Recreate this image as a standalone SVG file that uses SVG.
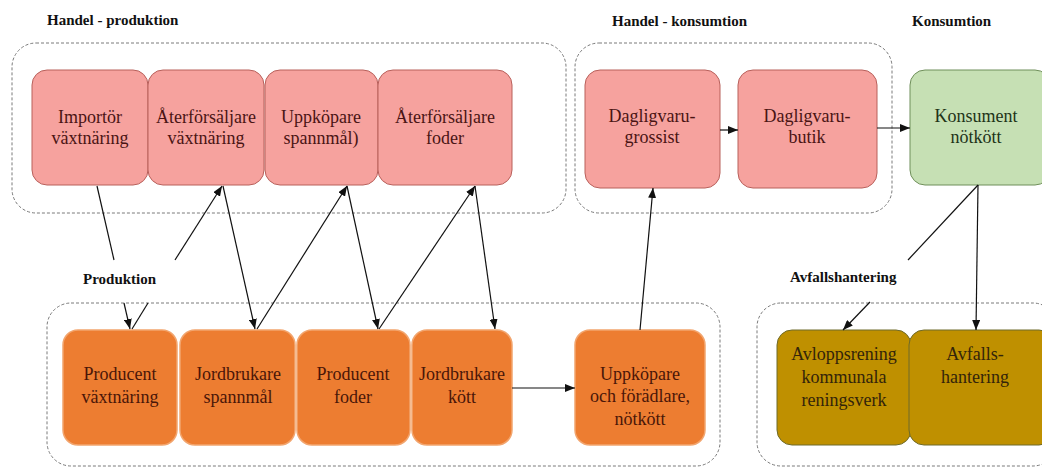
<svg xmlns="http://www.w3.org/2000/svg" width="1042" height="468" viewBox="0 0 1042 468">
  <style>
    .grp { fill: none; stroke: #7a7a7a; stroke-width: 1; stroke-dasharray: 3 2; }
    .pink { fill: #F6A29E; stroke: #B8605B; stroke-width: 1; }
    .orange { fill: #ED7D31; stroke: #F2A56E; stroke-width: 1.5; }
    .olive { fill: #BF9000; stroke: #6E6A2A; stroke-width: 1; }
    .green { fill: #C6E0B4; stroke: #6F8F5A; stroke-width: 1; }
    .t { font-family: "Liberation Serif", serif; font-size: 18px; text-anchor: middle; }
    .tp { fill: #4A1414; }
    .to { fill: #4A1608; }
    .tv { fill: #33240A; }
    .tg { fill: #1E3318; }
    .h { font-family: "Liberation Serif", serif; font-size: 15px; font-weight: bold; fill: #111; }
    .c { stroke: #111; stroke-width: 1.2; fill: none; }
  </style>
  <defs>
    <marker id="arr" viewBox="0 0 10 8" refX="10" refY="4" markerWidth="10" markerHeight="8" markerUnits="userSpaceOnUse" orient="auto">
      <path d="M0,0 L10,4 L0,8 z" fill="#111"/>
    </marker>
  </defs>

  <rect width="1042" height="468" fill="#ffffff"/>

  <!-- section headings -->
  <g id="headings">
    <text class="h" x="47" y="25">Handel - produktion</text>
    <text class="h" x="612" y="26">Handel - konsumtion</text>
    <text class="h" x="912" y="26">Konsumtion</text>
    <text class="h" x="83" y="284">Produktion</text>
    <text class="h" x="790" y="282">Avfallshantering</text>
  </g>

  <!-- dashed groupings -->
  <g id="groups">
    <rect class="grp" x="12" y="43" width="554" height="170" rx="24"/>
    <rect class="grp" x="575" y="43" width="317" height="170" rx="24"/>
    <rect class="grp" x="47" y="303" width="673" height="163" rx="24"/>
    <rect class="grp" x="757" y="303" width="300" height="163" rx="24"/>
  </g>

  <!-- trade / production tier -->
  <g id="importor-vaxtnaring">
    <rect class="pink" x="32" y="70" width="116" height="115" rx="15"/>
    <text class="t tp" x="90" y="123">Importör</text>
    <text class="t tp" x="90" y="144">växtnäring</text>
  </g>
  <g id="aterforsaljare-vaxtnaring">
    <rect class="pink" x="148" y="70" width="116" height="115" rx="15"/>
    <text class="t tp" x="206" y="123">Återförsäljare</text>
    <text class="t tp" x="206" y="144">växtnäring</text>
  </g>
  <g id="uppkopare-spannmal">
    <rect class="pink" x="265" y="70" width="113" height="115" rx="15"/>
    <text class="t tp" x="321" y="123">Uppköpare</text>
    <text class="t tp" x="321" y="144">spannmål)</text>
  </g>
  <g id="aterforsaljare-foder">
    <rect class="pink" x="378" y="70" width="134" height="115" rx="15"/>
    <text class="t tp" x="445" y="123">Återförsäljare</text>
    <text class="t tp" x="445" y="144">foder</text>
  </g>

  <!-- trade / consumption tier -->
  <g id="dagligvaru-grossist">
    <rect class="pink" x="585" y="70" width="135" height="118" rx="15"/>
    <text class="t tp" x="652" y="122">Dagligvaru-</text>
    <text class="t tp" x="652" y="143">grossist</text>
  </g>
  <g id="dagligvaru-butik">
    <rect class="pink" x="738" y="70" width="139" height="118" rx="15"/>
    <text class="t tp" x="807" y="122">Dagligvaru-</text>
    <text class="t tp" x="807" y="143">butik</text>
  </g>
  <g id="konsument-notkott">
    <rect class="green" x="910" y="70" width="140" height="115" rx="15"/>
    <text class="t tg" x="976" y="122">Konsument</text>
    <text class="t tg" x="976" y="143">nötkött</text>
  </g>

  <!-- production tier -->
  <g id="producent-vaxtnaring">
    <rect class="orange" x="63" y="330" width="114" height="115" rx="15"/>
    <text class="t to" x="120" y="380">Producent</text>
    <text class="t to" x="120" y="403">växtnäring</text>
  </g>
  <g id="jordbrukare-spannmal">
    <rect class="orange" x="180" y="330" width="115" height="115" rx="15"/>
    <text class="t to" x="238" y="380">Jordbrukare</text>
    <text class="t to" x="238" y="403">spannmål</text>
  </g>
  <g id="producent-foder">
    <rect class="orange" x="297" y="330" width="113" height="115" rx="15"/>
    <text class="t to" x="353" y="380">Producent</text>
    <text class="t to" x="353" y="403">foder</text>
  </g>
  <g id="jordbrukare-kott">
    <rect class="orange" x="412" y="330" width="100" height="115" rx="15"/>
    <text class="t to" x="462" y="380">Jordbrukare</text>
    <text class="t to" x="462" y="403">kött</text>
  </g>
  <g id="uppkopare-foradlare">
    <rect class="orange" x="575" y="330" width="130" height="115" rx="15"/>
    <text class="t to" x="640" y="380">Uppköpare</text>
    <text class="t to" x="640" y="402">och förädlare,</text>
    <text class="t to" x="640" y="425">nötkött</text>
  </g>

  <!-- waste handling tier -->
  <g id="avloppsrening">
    <rect class="olive" x="777" y="330" width="134" height="115" rx="15"/>
    <text class="t tv" x="844" y="360">Avloppsrening</text>
    <text class="t tv" x="844" y="383">kommunala</text>
    <text class="t tv" x="844" y="406">reningsverk</text>
  </g>
  <g id="avfallshantering">
    <rect class="olive" x="909" y="330" width="145" height="115" rx="15"/>
    <text class="t tv" x="975" y="360">Avfalls-</text>
    <text class="t tv" x="975" y="383">hantering</text>
  </g>

  <!-- flows between actors -->
  <g id="connectors">
    <line class="c" x1="97" y1="186" x2="114" y2="260"/>
    <line class="c" x1="124" y1="303" x2="130" y2="329" marker-end="url(#arr)"/>
    <line class="c" x1="132" y1="329" x2="148" y2="303"/>
    <line class="c" x1="175" y1="260" x2="222" y2="186" marker-end="url(#arr)"/>
    <line class="c" x1="223" y1="186" x2="255" y2="329" marker-end="url(#arr)"/>
    <line class="c" x1="257" y1="329" x2="347" y2="186" marker-end="url(#arr)"/>
    <line class="c" x1="347" y1="186" x2="378" y2="329" marker-end="url(#arr)"/>
    <line class="c" x1="379" y1="329" x2="475" y2="186" marker-end="url(#arr)"/>
    <line class="c" x1="475" y1="186" x2="495" y2="329" marker-end="url(#arr)"/>
    <line class="c" x1="512" y1="388" x2="575" y2="388" marker-end="url(#arr)"/>
    <line class="c" x1="640" y1="330" x2="653" y2="188" marker-end="url(#arr)"/>
    <line class="c" x1="720" y1="130" x2="738" y2="130" marker-end="url(#arr)"/>
    <line class="c" x1="877" y1="128" x2="910" y2="128" marker-end="url(#arr)"/>
    <line class="c" x1="978" y1="185" x2="908" y2="260"/>
    <line class="c" x1="870" y1="302" x2="843" y2="330" marker-end="url(#arr)"/>
    <line class="c" x1="978" y1="185" x2="976" y2="330" marker-end="url(#arr)"/>
  </g>
</svg>
